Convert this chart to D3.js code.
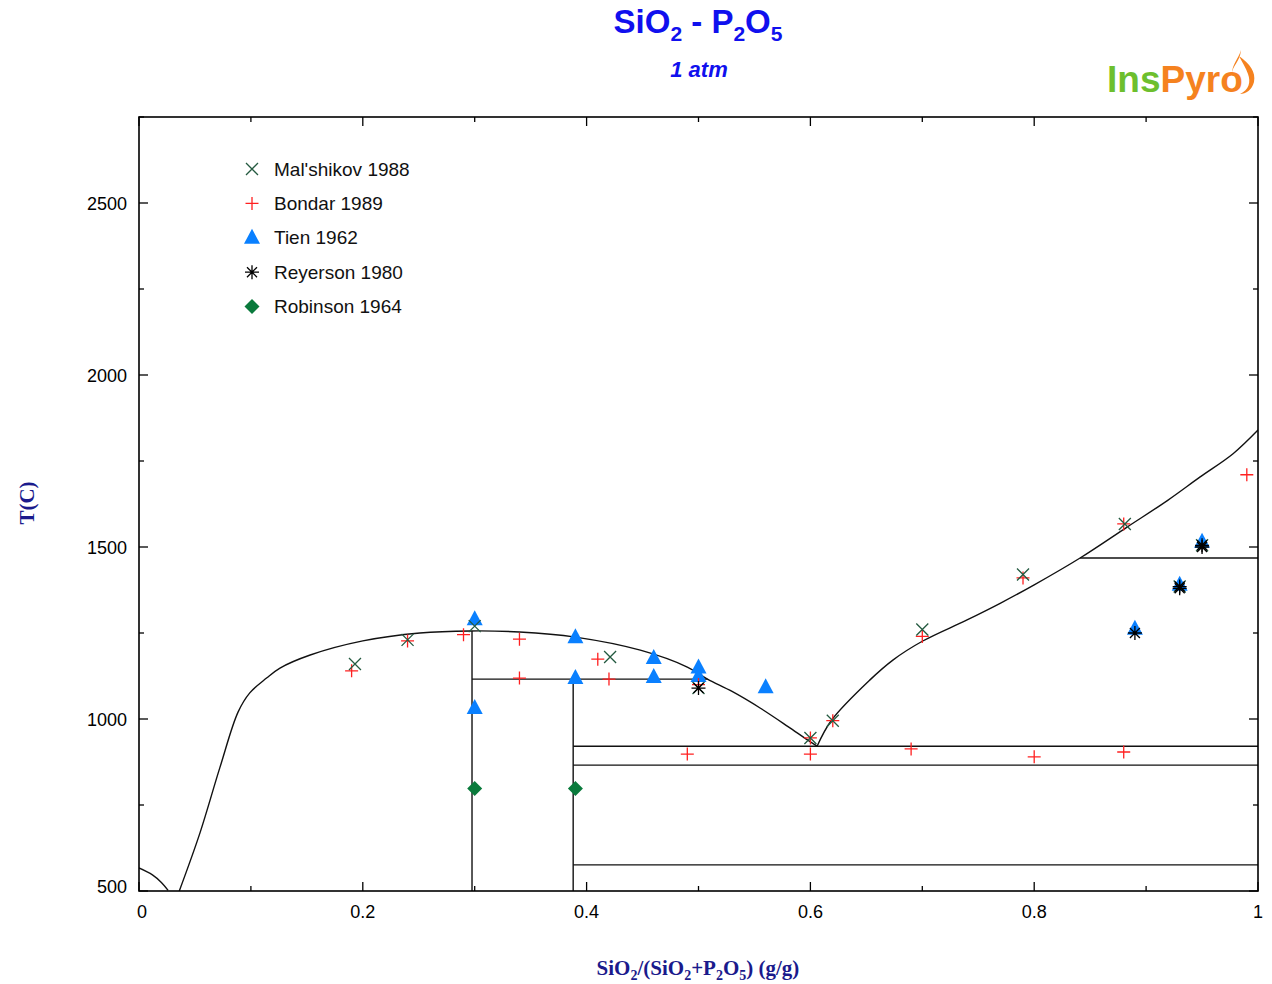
<!DOCTYPE html>
<html>
<head>
<meta charset="utf-8">
<script src="https://cdn.jsdelivr.net/npm/d3@7"></script>
<style>
  body { margin: 0; background: #fff; }
  svg text { font-family: Arial, "Liberation Sans", sans-serif; }
</style>
</head>
<body>
<svg id="chart" width="1272" height="984"></svg>
<script>
// ---- data (x = SiO2/(SiO2+P2O5), T in C) ----
var malshikov = [
    [0.193, 1160], [0.240, 1230], [0.300, 1270], [0.421, 1180], [0.500, 1090],
    [0.600, 945], [0.620, 995], [0.700, 1260], [0.790, 1420], [0.881, 1567],
    [0.930, 1385], [0.950, 1505]
];
var bondar = [
    [0.190, 1140], [0.240, 1227], [0.290, 1245], [0.340, 1232], [0.340, 1119],
    [0.410, 1174], [0.420, 1116], [0.500, 1100], [0.490, 898], [0.600, 898],
    [0.600, 945], [0.620, 995], [0.690, 913], [0.700, 1240], [0.790, 1410],
    [0.800, 890], [0.880, 1567], [0.880, 904], [0.990, 1710]
];
var tien = [
    [0.300, 1290], [0.300, 1032], [0.390, 1238], [0.390, 1119], [0.460, 1177],
    [0.460, 1122], [0.500, 1150], [0.500, 1125], [0.560, 1092], [0.890, 1262],
    [0.930, 1390], [0.950, 1515]
];
var reyerson = [
    [0.500, 1090], [0.890, 1250], [0.930, 1385], [0.930, 1380], [0.950, 1505], [0.950, 1500]
];
var robinson = [[0.300, 798], [0.390, 798]];

// phase boundaries
var liquidusLeft = [
    [0.036, 500], [0.0545, 669], [0.0724, 860], [0.0885, 1020], [0.099, 1076],
    [0.114, 1119], [0.126, 1148], [0.153, 1186], [0.200, 1227], [0.251, 1250],
    [0.296, 1256], [0.340, 1253], [0.390, 1238], [0.448, 1200], [0.490, 1151],
    [0.508, 1116], [0.530, 1080], [0.555, 1032], [0.580, 978], [0.597, 940], [0.606, 921]
];
var liquidusRight = [
    [0.606, 921], [0.619, 997], [0.653, 1113], [0.674, 1172], [0.700, 1226],
    [0.740, 1288], [0.770, 1337], [0.800, 1390], [0.841, 1468], [0.883, 1558],
    [0.919, 1635], [0.948, 1703], [0.978, 1772], [1.000, 1840]
];
var smallCurve = [[0.0, 567], [0.012, 547], [0.020, 525], [0.026, 502]];
var segments = [
    [[0.2976, 500], [0.2976, 1256]],
    [[0.2976, 1116], [0.508, 1116]],
    [[0.388, 500], [0.388, 1116]],
    [[0.388, 921], [1.0, 921]],
    [[0.388, 866], [1.0, 866]],
    [[0.388, 576], [1.0, 576]],
    [[0.841, 1468], [1.0, 1468]]
];

var xTicks = [0, 0.2, 0.4, 0.6, 0.8, 1];
var yTicks = [500, 1000, 1500, 2000, 2500];

var legendItems = [
    { name: "Mal'shikov 1988", shape: "x" },
    { name: "Bondar 1989", shape: "plus" },
    { name: "Tien 1962", shape: "tri" },
    { name: "Reyerson 1980", shape: "star" },
    { name: "Robinson 1964", shape: "dia" }
];

var colors = { x: "#245a40", plus: "#ff2020", tri: "#0a80ff", star: "#000000", dia: "#0a7a3c" };

// ---- layout ----
var svg = d3.select("#chart");
var pLeft = 139, pRight = 1258, pTop = 117, pBottom = 891;
var x = d3.scaleLinear().domain([0, 1]).range([pLeft, pRight]);
var y = d3.scaleLinear().domain([500, 2750]).range([pBottom, pTop]);

var defs = svg.append("defs");
defs.append("clipPath").attr("id", "clip")
    .append("rect").attr("x", pLeft).attr("y", pTop).attr("width", pRight - pLeft).attr("height", pBottom - pTop);

// ticks inward on all four sides
function axisTicks() {
    var g = svg.append("g").attr("stroke", "#000").attr("stroke-width", 1.3);
    d3.range(0, 1.0001, 0.1).forEach(function (v) {
        var major = Math.round(v * 10) % 2 === 0;
        var len = major ? 9 : 5;
        g.append("line").attr("x1", x(v)).attr("x2", x(v)).attr("y1", pBottom).attr("y2", pBottom - len);
        g.append("line").attr("x1", x(v)).attr("x2", x(v)).attr("y1", pTop).attr("y2", pTop + len);
    });
    d3.range(500, 2751, 250).forEach(function (v) {
        var len = v % 500 === 0 ? 9 : 5;
        g.append("line").attr("x1", pLeft).attr("x2", pLeft + len).attr("y1", y(v)).attr("y2", y(v));
        g.append("line").attr("x1", pRight).attr("x2", pRight - len).attr("y1", y(v)).attr("y2", y(v));
    });
}
axisTicks();

svg.append("g").selectAll("text").data(xTicks).enter().append("text")
    .attr("x", function (d) { return d === 0 ? x(d) + 3 : x(d); })
    .attr("y", 918)
    .attr("text-anchor", "middle")
    .attr("font-size", 18)
    .text(function (d) { return d; });

svg.append("g").selectAll("text").data(yTicks).enter().append("text")
    .attr("x", 127)
    .attr("y", function (d) { return d === 500 ? y(d) + 2 : y(d) + 7; })
    .attr("text-anchor", "end")
    .attr("font-size", 18)
    .text(function (d) { return d; });

// phase lines
var line = d3.line().x(function (d) { return x(d[0]); }).y(function (d) { return y(d[1]); });
var curve = d3.line().curve(d3.curveCatmullRom.alpha(0.5)).x(function (d) { return x(d[0]); }).y(function (d) { return y(d[1]); });
var lines = svg.append("g").attr("clip-path", "url(#clip)")
    .attr("fill", "none").attr("stroke", "#111").attr("stroke-width", 1.4);
lines.append("path").attr("d", curve(liquidusLeft));
lines.append("path").attr("d", curve(liquidusRight));
lines.append("path").attr("d", curve(smallCurve));
segments.forEach(function (s) { lines.append("path").attr("d", line(s)); });

// frame
svg.append("rect").attr("x", pLeft).attr("y", pTop).attr("width", pRight - pLeft).attr("height", pBottom - pTop)
    .attr("fill", "none").attr("stroke", "#000").attr("stroke-width", 1.6);

// markers
function drawMarker(g, shape, cx, cy) {
    var c = colors[shape];
    if (shape === "x") {
        g.append("path").attr("d", "M" + (cx - 6) + "," + (cy - 6) + "L" + (cx + 6) + "," + (cy + 6) +
            "M" + (cx - 6) + "," + (cy + 6) + "L" + (cx + 6) + "," + (cy - 6))
            .attr("stroke", c).attr("stroke-width", 1.3).attr("fill", "none");
    } else if (shape === "plus") {
        g.append("path").attr("d", "M" + (cx - 6.5) + "," + cy + "L" + (cx + 6.5) + "," + cy +
            "M" + cx + "," + (cy - 6.5) + "L" + cx + "," + (cy + 6.5))
            .attr("stroke", c).attr("stroke-width", 1.3).attr("fill", "none");
    } else if (shape === "tri") {
        g.append("path").attr("d", "M" + cx + "," + (cy - 9) + "L" + (cx + 8) + "," + (cy + 6) + "L" + (cx - 8) + "," + (cy + 6) + "Z")
            .attr("fill", c);
    } else if (shape === "star") {
        g.append("path").attr("d", "M" + (cx - 7) + "," + cy + "L" + (cx + 7) + "," + cy +
            "M" + cx + "," + (cy - 7) + "L" + cx + "," + (cy + 7) +
            "M" + (cx - 5) + "," + (cy - 5) + "L" + (cx + 5) + "," + (cy + 5) +
            "M" + (cx - 5) + "," + (cy + 5) + "L" + (cx + 5) + "," + (cy - 5))
            .attr("stroke", c).attr("stroke-width", 1.3).attr("fill", "none");
    } else if (shape === "dia") {
        g.append("path").attr("d", "M" + cx + "," + (cy - 7.5) + "L" + (cx + 7.5) + "," + cy + "L" + cx + "," + (cy + 7.5) + "L" + (cx - 7.5) + "," + cy + "Z")
            .attr("fill", c);
    }
}

var pts = svg.append("g");
tien.forEach(function (d) { drawMarker(pts, "tri", x(d[0]), y(d[1])); });
robinson.forEach(function (d) { drawMarker(pts, "dia", x(d[0]), y(d[1])); });
bondar.forEach(function (d) { drawMarker(pts, "plus", x(d[0]), y(d[1])); });
malshikov.forEach(function (d) { drawMarker(pts, "x", x(d[0]), y(d[1])); });
reyerson.forEach(function (d) { drawMarker(pts, "star", x(d[0]), y(d[1])); });

// legend
var lg = svg.append("g");
legendItems.forEach(function (it, i) {
    var ly = 169 + i * 34.4;
    drawMarker(lg, it.shape, 252, ly);
    lg.append("text").attr("x", 274).attr("y", ly + 6.5).attr("font-size", 19).attr("fill", "#111").text(it.name);
});

// titles
var title = svg.append("text").attr("x", 698).attr("y", 33).attr("text-anchor", "middle")
    .attr("font-size", 33).attr("font-weight", "bold").attr("fill", "#1010ee");
title.append("tspan").text("SiO");
title.append("tspan").attr("font-size", 21).attr("dy", 8).text("2");
title.append("tspan").attr("dy", -8).text(" - P");
title.append("tspan").attr("font-size", 21).attr("dy", 8).text("2");
title.append("tspan").attr("dy", -8).text("O");
title.append("tspan").attr("font-size", 21).attr("dy", 8).text("5");

svg.append("text").attr("x", 699).attr("y", 77).attr("text-anchor", "middle")
    .attr("font-size", 22).attr("font-weight", "bold").attr("font-style", "italic").attr("fill", "#1010ee")
    .text("1 atm");

var xt = svg.append("text").attr("x", 698).attr("y", 975).attr("text-anchor", "middle")
    .attr("font-size", 21).attr("font-weight", "bold").attr("fill", "#1a1a8c")
    .style("font-family", "'Liberation Serif', 'Times New Roman', serif");
xt.append("tspan").text("SiO");
xt.append("tspan").attr("font-size", 14).attr("dy", 5).text("2");
xt.append("tspan").attr("dy", -5).text("/(SiO");
xt.append("tspan").attr("font-size", 14).attr("dy", 5).text("2");
xt.append("tspan").attr("dy", -5).text("+P");
xt.append("tspan").attr("font-size", 14).attr("dy", 5).text("2");
xt.append("tspan").attr("dy", -5).text("O");
xt.append("tspan").attr("font-size", 14).attr("dy", 5).text("5");
xt.append("tspan").attr("dy", -5).text(") (g/g)");

svg.append("text").attr("transform", "translate(34,503) rotate(-90)").attr("text-anchor", "middle")
    .attr("font-size", 21).attr("font-weight", "bold").attr("fill", "#1a1a8c")
    .style("font-family", "'Liberation Serif', 'Times New Roman', serif")
    .text("T(C)");

// logo
var logo = svg.append("text").attr("x", 1107).attr("y", 92).attr("font-size", 37).attr("font-weight", "bold");
logo.append("tspan").attr("fill", "#6dbf2e").text("Ins");
logo.append("tspan").attr("fill", "#f5821f").text("Pyr");
logo.append("tspan").attr("fill", "#f5821f").text("o");
svg.append("path")
    .attr("d", "M1241,50 C1238,60 1232,64 1232,74 C1232,66 1240,62 1241,50 Z M1239,56 C1250,64 1256,72 1254,82 C1252,90 1246,94 1240,94 C1249,90 1251,82 1248,74 C1246,68 1242,62 1239,56 Z")
    .attr("fill", "#f5821f");
</script>
</body>
</html>
